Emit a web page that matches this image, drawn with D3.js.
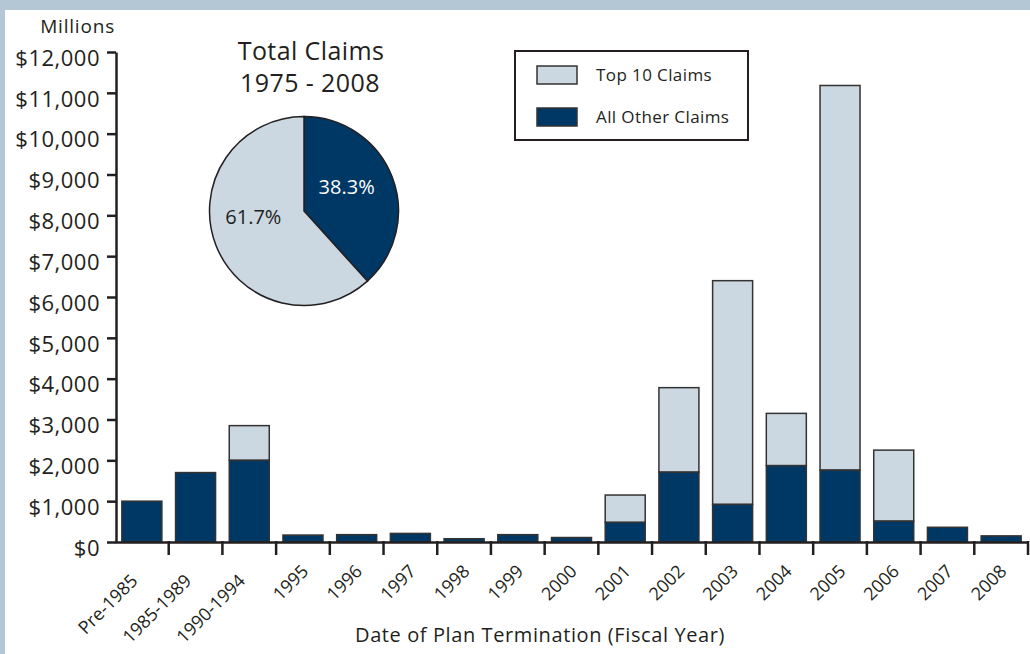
<!DOCTYPE html>
<html>
<head>
<meta charset="utf-8">
<script src="https://cdn.jsdelivr.net/npm/d3@7"></script>
<style>
  body { margin: 0; }
  text { font-family: "Open Sans", sans-serif; fill: #231f20; }
</style>
</head>
<body>
<svg id="chart" width="1030" height="654"></svg>
<script>
var categories = ["Pre-1985", "1985-1989", "1990-1994", "1995", "1996", "1997", "1998", "1999",
  "2000", "2001", "2002", "2003", "2004", "2005", "2006", "2007", "2008"];
var otherClaims = [1000, 1700, 2000, 170, 180, 210, 80, 180, 110, 480, 1710, 920, 1870, 1760, 510, 360, 150];
var top10Claims = [0, 0, 850, 0, 0, 0, 0, 0, 0, 670, 2070, 5480, 1280, 9420, 1740, 0, 0];
var yTicks = [0, 1000, 2000, 3000, 4000, 5000, 6000, 7000, 8000, 9000, 10000, 11000, 12000];
var pieLabels = ["All Other Claims", "Top 10 Claims"];
var pieShares = [38.3, 61.7];

var dark = "#003865", light = "#cbd7e1", edge = "#333";

var svg = d3.select("#chart");
svg.append("rect").attr("width", 1030).attr("height", 654).attr("fill", "#b4c7d4");
svg.append("rect").attr("x", 5).attr("y", 10).attr("width", 1025).attr("height", 644).attr("fill", "#fff");

var x = d3.scaleBand().domain(categories).range([115, 1028]).paddingInner(0.255).paddingOuter(0.1275);
var y = d3.scaleLinear().domain([0, 12000]).range([542, 52]);

var rows = categories.map(function(c, i) {
  return { cat: c, other: otherClaims[i], top: top10Claims[i] };
});

// bars
var g = svg.append("g");
g.selectAll("rect.top")
  .data(rows.filter(function(d) { return d.top > 0; }))
  .enter().append("rect")
  .attr("x", function(d) { return x(d.cat); })
  .attr("y", function(d) { return y(d.other + d.top); })
  .attr("width", x.bandwidth())
  .attr("height", function(d) { return y(d.other) - y(d.other + d.top); })
  .attr("fill", light).attr("stroke", edge).attr("stroke-width", 1.5);

g.selectAll("rect.other")
  .data(rows)
  .enter().append("rect")
  .attr("x", function(d) { return x(d.cat); })
  .attr("y", function(d) { return y(d.other); })
  .attr("width", x.bandwidth())
  .attr("height", function(d) { return y(0) - y(d.other); })
  .attr("fill", dark).attr("stroke", edge).attr("stroke-width", 1.5);

// y axis
var yAxis = svg.append("g")
  .attr("transform", "translate(116,0)")
  .call(d3.axisLeft(y).tickValues(yTicks).tickFormat(d3.format("$,")).tickSize(9).tickSizeOuter(0).tickPadding(7));
yAxis.select(".domain").attr("stroke", "#231f20").attr("stroke-width", 2.5);
yAxis.selectAll(".tick line").attr("stroke", "#231f20").attr("stroke-width", 2.5);
yAxis.selectAll(".tick text").attr("font-size", 22).attr("font-family", "Open Sans")
  .attr("letter-spacing", "0.5px").attr("dy", "0.6em").attr("fill", "#231f20");

// x axis
var step = x.step();
var xAxis = svg.append("g")
  .attr("transform", "translate(0,542)")
  .call(d3.axisBottom(x).tickSize(0).tickSizeOuter(0));
xAxis.select(".domain").attr("stroke", "#231f20").attr("stroke-width", 2.5);
var xLabels = xAxis.selectAll(".tick text")
  .attr("font-size", 18).attr("font-family", "Open Sans").attr("fill", "#231f20")
  .attr("text-anchor", "end")
  .attr("y", 0).attr("dy", "0");
// the short year labels sit a little further up the diagonal
var refLen = xLabels.nodes()[0].getComputedTextLength();
xLabels.attr("transform", function() {
  var s = 0.4 * Math.max(0, refLen - this.getComputedTextLength()) * Math.SQRT1_2;
  return "translate(" + (-3 + s) + "," + (40 - s) + ") rotate(-45)";
});

svg.append("g").selectAll("line")
  .data(categories)
  .enter().append("line")
  .attr("x1", function(d) { return x(d) + x.bandwidth() / 2 + step / 2; })
  .attr("x2", function(d) { return x(d) + x.bandwidth() / 2 + step / 2; })
  .attr("y1", 541).attr("y2", 555)
  .attr("stroke", "#231f20").attr("stroke-width", 2.5);

svg.append("text").attr("x", 115).attr("y", 33).attr("text-anchor", "end")
  .attr("font-size", 19).attr("letter-spacing", "0.8px").text("Millions");

svg.append("text").attr("x", 540).attr("y", 642).attr("text-anchor", "middle")
  .attr("font-size", 20).attr("letter-spacing", "0.6px").text("Date of Plan Termination (Fiscal Year)");

// pie
svg.append("text").attr("x", 311).attr("y", 60).attr("text-anchor", "middle")
  .attr("font-size", 25).attr("letter-spacing", "0.4px").text("Total Claims");
svg.append("text").attr("x", 310).attr("y", 92).attr("text-anchor", "middle")
  .attr("font-size", 25).attr("letter-spacing", "0.4px").text("1975 - 2008");

var pie = d3.pie().sort(null).value(function(d) { return d; });
var arc = d3.arc().innerRadius(0).outerRadius(94.5);
var slices = pie(pieShares);
var pg = svg.append("g").attr("transform", "translate(304,211)");
pg.selectAll("path").data(slices).enter().append("path")
  .attr("d", arc)
  .attr("fill", function(d, i) { return i === 0 ? dark : light; })
  .attr("stroke", "#231f20").attr("stroke-width", 1.5);

var labelArc = d3.arc().innerRadius(50).outerRadius(50);
pg.selectAll("text").data(slices).enter().append("text")
  .attr("transform", function(d, i) {
    var c = labelArc.centroid(d);
    return i === 0 ? "translate(" + (c[0] - 4) + "," + (c[1] - 6) + ")"
                   : "translate(" + (c[0] - 4) + "," + (c[1] - 12) + ")";
  })
  .attr("text-anchor", "middle").attr("dy", "0.35em").attr("font-size", 20)
  .style("fill", function(d, i) { return i === 0 ? "#fff" : "#231f20"; })
  .text(function(d) { return d.data.toFixed(1) + "%"; });

// legend
var lg = svg.append("g");
lg.append("rect").attr("x", 515).attr("y", 51).attr("width", 233).attr("height", 89)
  .attr("fill", "#fff").attr("stroke", "#231f20").attr("stroke-width", 2);
var legendItems = [{ label: pieLabels[1], color: light }, { label: pieLabels[0], color: dark }];
lg.selectAll("rect.sw").data(legendItems).enter().append("rect")
  .attr("x", 537).attr("y", function(d, i) { return 66 + i * 42; })
  .attr("width", 40).attr("height", 18)
  .attr("fill", function(d) { return d.color; }).attr("stroke", edge).attr("stroke-width", 1.5);
lg.selectAll("text").data(legendItems).enter().append("text")
  .attr("x", 596).attr("y", function(d, i) { return 81 + i * 42; })
  .attr("font-size", 17).attr("letter-spacing", "0.4px").text(function(d) { return d.label; });
</script>
</body>
</html>
